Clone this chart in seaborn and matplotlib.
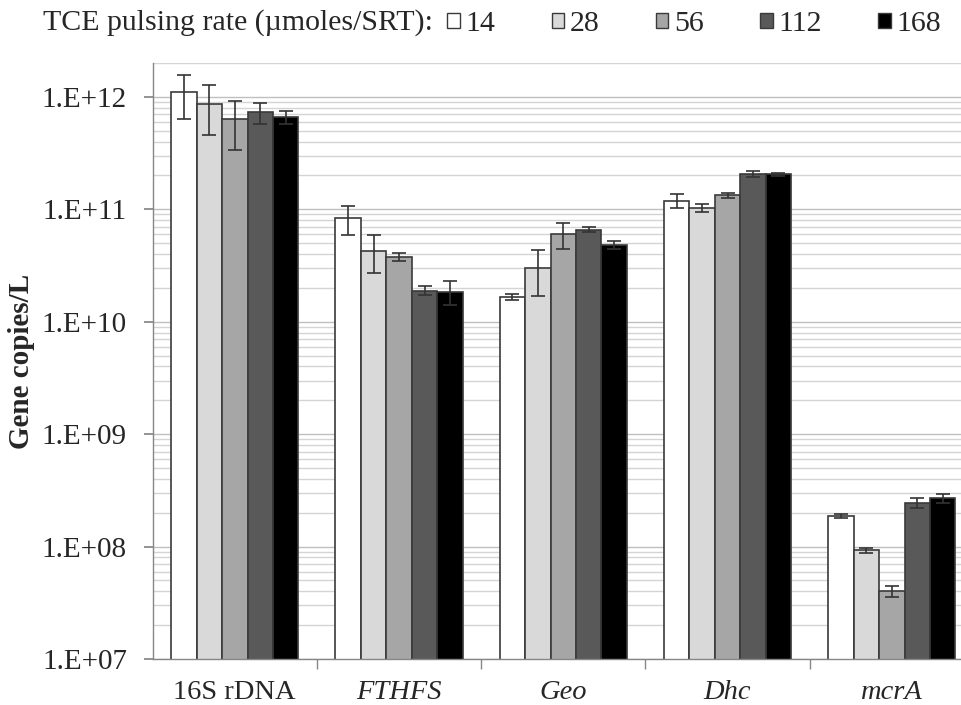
import numpy as np
import pandas as pd
import matplotlib
matplotlib.use("Agg")
import matplotlib.pyplot as plt
import seaborn as sns
from matplotlib.patches import Patch
from matplotlib.ticker import LogLocator, FixedLocator, NullFormatter

sns.set_theme(style="white")
plt.rcParams["font.family"] = ["Liberation Serif", "DejaVu Serif"]

genes = ["16S rDNA", "FTHFS", "Geo", "Dhc", "mcrA"]
rates = ["14", "28", "56", "112", "168"]

# Mean gene copies per litre, one list per pulsing rate (order follows `genes`)
mean_14 = [1.10e12, 8.3e10, 1.66e10, 1.19e11, 1.87e8]
mean_28 = [8.7e11, 4.3e10, 3.03e10, 1.03e11, 9.3e7]
mean_56 = [6.3e11, 3.8e10, 6.0e10, 1.33e11, 4.0e7]
mean_112 = [7.3e11, 1.89e10, 6.6e10, 2.06e11, 2.44e8]
mean_168 = [6.6e11, 1.85e10, 4.83e10, 2.04e11, 2.69e8]

# Standard deviations
sd_14 = [4.6e11, 2.4e10, 0.10e10, 0.17e11, 0.09e8]
sd_28 = [4.1e11, 1.6e10, 1.35e10, 0.08e11, 0.5e7]
sd_56 = [2.9e11, 0.3e10, 1.6e10, 0.06e11, 0.45e7]
sd_112 = [1.6e11, 0.17e10, 0.35e10, 0.12e11, 0.25e8]
sd_168 = [0.85e11, 0.45e10, 0.37e10, 0.08e11, 0.25e8]

means = [mean_14, mean_28, mean_56, mean_112, mean_168]
sds = [sd_14, sd_28, sd_56, sd_112, sd_168]
colors = ["#ffffff", "#d9d9d9", "#a6a6a6", "#595959", "#000000"]

df = pd.DataFrame({
    "gene": np.tile(genes, len(rates)),
    "rate": np.repeat(rates, len(genes)),
    "copies": np.concatenate(means),
    "sd": np.concatenate(sds),
})

fig = plt.figure(figsize=(9.62, 7.05), dpi=100)
# the plot area runs slightly past the right edge of the canvas
ax = fig.add_axes([0.1587, 0.0652, 0.8537, 0.8454])

ax.set_yscale("log")
ax.set_ylim(1e7, 2e12)
ax.yaxis.set_major_locator(LogLocator(base=10, numticks=20))
ax.yaxis.set_minor_locator(LogLocator(base=10, subs=np.arange(2, 10), numticks=20))
ax.yaxis.set_minor_formatter(NullFormatter())
ax.grid(True, which="major", axis="y", color="#bfbfbf", lw=1.0, zorder=0)
ax.grid(True, which="minor", axis="y", color="#d4d4d4", lw=1.0, zorder=0)
ax.set_axisbelow(True)

sns.barplot(data=df, x="gene", y="copies", hue="rate", order=genes,
            hue_order=rates, palette=colors, width=0.775, gap=0,
            edgecolor="#3a3a3a", linewidth=1.2, errorbar=None,
            legend=False, ax=ax, zorder=2)

for cont, m, s in zip(ax.containers, means, sds):
    xs = [b.get_x() + b.get_width() / 2 for b in cont]
    ax.errorbar(xs, m, yerr=s, fmt="none", ecolor="#333333",
                elinewidth=1.2, capsize=5, capthick=1.2, zorder=3)

ax.set_xlim(-0.5, len(genes) - 0.5)
ax.set_xlabel("")
ax.set_ylabel("Gene copies/L", fontsize=21, fontweight="bold", labelpad=5)

ax.yaxis.set_major_formatter(plt.FuncFormatter(lambda v, p: "1.E+%02d" % round(np.log10(v))))
ax.tick_params(axis="y", which="major", labelsize=21, length=6.5, color="#868686",
               direction="out", left=True, pad=12)
ax.tick_params(axis="y", which="minor", length=0)

ax.set_xticks(range(len(genes)))
ax.set_xticklabels(genes)
for lbl in ax.get_xticklabels():
    lbl.set_fontsize(20.5)
    if lbl.get_text() != "16S rDNA":
        lbl.set_style("italic")
ax.tick_params(axis="x", which="major", length=0, pad=15, bottom=False)
ax.xaxis.set_minor_locator(FixedLocator(np.arange(0.5, len(genes) - 1, 1.0)))
ax.tick_params(axis="x", which="minor", length=7, color="#868686",
               direction="out", bottom=True)

for side in ["top", "right"]:
    ax.spines[side].set_visible(False)
for side in ["left", "bottom"]:
    ax.spines[side].set_color("#868686")
    ax.spines[side].set_linewidth(1.0)

fig.text(43 / 962, 1 - 23 / 705, "TCE pulsing rate (\u00b5moles/SRT):",
         fontsize=21.5, va="center", ha="left")
handles = [Patch(facecolor=c, edgecolor="#3a3a3a", linewidth=1.0) for c in colors]
fig.legend(handles, rates, loc="center left", bbox_to_anchor=(447 / 962, 1 - 24 / 705),
           ncol=5, frameon=False, fontsize=21.5, handlelength=0.42,
           handleheight=0.42, handletextpad=0.18, columnspacing=1.9,
           borderaxespad=0, borderpad=0)

fig.savefig("out.png", dpi=100)
